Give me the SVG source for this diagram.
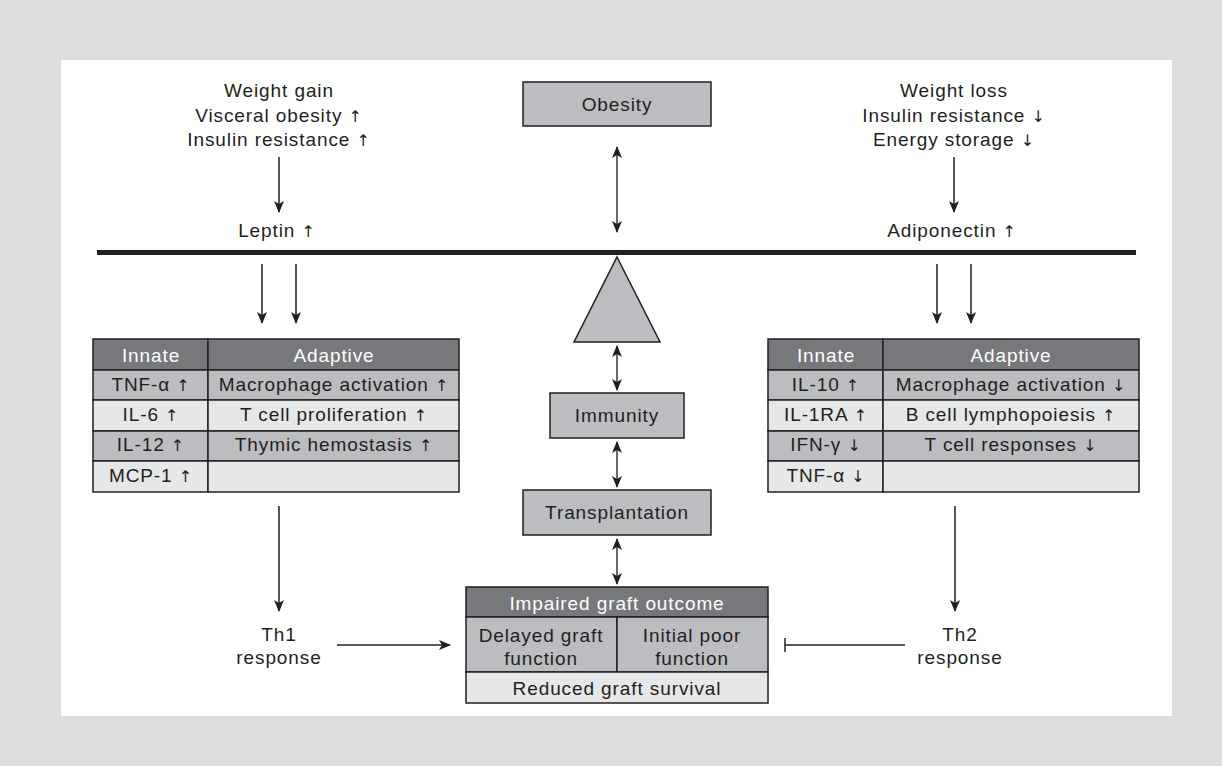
<svg xmlns="http://www.w3.org/2000/svg" width="1222" height="766" viewBox="0 0 1222 766">
<style>
text{font-family:"Liberation Sans",Arial,sans-serif;font-size:19px;letter-spacing:0.9px;fill:#231f20;text-anchor:middle}
.a{font-family:"DejaVu Sans",sans-serif;font-size:16px;font-variant-emoji:text}
.hd{fill:#fff}
.box{fill:#bcbdc0;stroke:#231f20;stroke-width:1.5}
.dk{fill:#77787b;stroke:#231f20;stroke-width:1.5}
.lt{fill:#e6e7e8;stroke:#231f20;stroke-width:1.5}
.md{fill:#bcbdc0;stroke:#231f20;stroke-width:1.5}
.ar{stroke:#231f20;stroke-width:1.5;fill:none}
.gr{stroke:#58595b;stroke-width:1.8;fill:none}
</style>
<defs>
<marker id="ah" viewBox="0 0 12 10" refX="11" refY="5" markerWidth="12" markerHeight="10" markerUnits="userSpaceOnUse" orient="auto-start-reverse">
<path d="M0,0 L12,5 L0,10 L3,5 Z" fill="#231f20"/>
</marker>
</defs>
<rect x="0" y="0" width="1222" height="766" fill="#dcdddf"/>
<rect x="61" y="60" width="1111" height="656" fill="#fff"/>

<g id="left-top">
<text x="279" y="97">Weight gain</text>
<text x="279" y="122">Visceral obesity <tspan class="a">↑︎</tspan></text>
<text x="279" y="146">Insulin resistance <tspan class="a">↑︎</tspan></text>
</g>
<g id="leptin"><text x="277" y="237">Leptin <tspan class="a">↑︎</tspan></text></g>
<g id="right-top">
<text x="954" y="97">Weight loss</text>
<text x="954" y="122">Insulin resistance <tspan class="a">↓︎</tspan></text>
<text x="954" y="146">Energy storage <tspan class="a">↓︎</tspan></text>
</g>
<g id="adiponectin"><text x="952" y="237">Adiponectin <tspan class="a">↑︎</tspan></text></g>

<g id="obesity">
<rect class="box" x="523" y="82" width="188" height="44"/>
<text x="617" y="111">Obesity</text>
</g>
<g id="balance">
<rect x="97" y="250" width="1039" height="5" fill="#231f20"/>
<polygon points="617,257 660,342 574,342" class="box"/>
</g>
<g id="immunity">
<rect class="box" x="550" y="393" width="134" height="45"/>
<text x="617" y="422">Immunity</text>
</g>
<g id="transplantation">
<rect class="box" x="523" y="490" width="188" height="45"/>
<text x="617" y="519">Transplantation</text>
</g>

<g id="left-table">
<rect class="dk" x="93" y="339" width="115" height="31"/>
<rect class="dk" x="208" y="339" width="251" height="31"/>
<rect class="md" x="93" y="370" width="115" height="30"/>
<rect class="md" x="208" y="370" width="251" height="30"/>
<rect class="lt" x="93" y="400" width="115" height="31"/>
<rect class="lt" x="208" y="400" width="251" height="31"/>
<rect class="md" x="93" y="431" width="115" height="30"/>
<rect class="md" x="208" y="431" width="251" height="30"/>
<rect class="lt" x="93" y="461" width="115" height="31"/>
<rect class="lt" x="208" y="461" width="251" height="31"/>
<text class="hd" x="151" y="362">Innate</text>
<text class="hd" x="334" y="362">Adaptive</text>
<text x="151" y="391">TNF-α <tspan class="a">↑︎</tspan></text>
<text x="334" y="391">Macrophage activation <tspan class="a">↑︎</tspan></text>
<text x="151" y="421">IL-6 <tspan class="a">↑︎</tspan></text>
<text x="334" y="421">T cell proliferation <tspan class="a">↑︎</tspan></text>
<text x="151" y="451">IL-12 <tspan class="a">↑︎</tspan></text>
<text x="334" y="451">Thymic hemostasis <tspan class="a">↑︎</tspan></text>
<text x="151" y="482">MCP-1 <tspan class="a">↑︎</tspan></text>
</g>

<g id="right-table">
<rect class="dk" x="768" y="339" width="115" height="31"/>
<rect class="dk" x="883" y="339" width="256" height="31"/>
<rect class="md" x="768" y="370" width="115" height="30"/>
<rect class="md" x="883" y="370" width="256" height="30"/>
<rect class="lt" x="768" y="400" width="115" height="31"/>
<rect class="lt" x="883" y="400" width="256" height="31"/>
<rect class="md" x="768" y="431" width="115" height="30"/>
<rect class="md" x="883" y="431" width="256" height="30"/>
<rect class="lt" x="768" y="461" width="115" height="31"/>
<rect class="lt" x="883" y="461" width="256" height="31"/>
<text class="hd" x="826" y="362">Innate</text>
<text class="hd" x="1011" y="362">Adaptive</text>
<text x="826" y="391">IL-10 <tspan class="a">↑︎</tspan></text>
<text x="1011" y="391">Macrophage activation <tspan class="a">↓︎</tspan></text>
<text x="826" y="421">IL-1RA <tspan class="a">↑︎</tspan></text>
<text x="1011" y="421">B cell lymphopoiesis <tspan class="a">↑︎</tspan></text>
<text x="826" y="451">IFN-γ <tspan class="a">↓︎</tspan></text>
<text x="1011" y="451">T cell responses <tspan class="a">↓︎</tspan></text>
<text x="826" y="482">TNF-α <tspan class="a">↓︎</tspan></text>
</g>

<g id="impaired">
<rect class="dk" x="466" y="587" width="302" height="30"/>
<rect class="md" x="466" y="617" width="151" height="55"/>
<rect class="md" x="617" y="617" width="151" height="55"/>
<rect class="lt" x="466" y="672" width="302" height="31"/>
<text class="hd" x="617" y="610">Impaired graft outcome</text>
<text x="541" y="642">Delayed graft</text>
<text x="541" y="665">function</text>
<text x="692" y="642">Initial poor</text>
<text x="692" y="665">function</text>
<text x="617" y="695">Reduced graft survival</text>
</g>

<g id="th1"><text x="279" y="641">Th1</text><text x="279" y="664">response</text></g>
<g id="th2"><text x="960" y="641">Th2</text><text x="960" y="664">response</text></g>

<g id="connectors">
<line class="ar" x1="279" y1="157" x2="279" y2="212" marker-end="url(#ah)"/>
<line class="ar" x1="954" y1="157" x2="954" y2="212" marker-end="url(#ah)"/>
<line class="gr" x1="617" y1="147" x2="617" y2="232" marker-start="url(#ah)" marker-end="url(#ah)"/>
<line class="ar" x1="262" y1="264" x2="262" y2="323" marker-end="url(#ah)"/>
<line class="ar" x1="296" y1="264" x2="296" y2="323" marker-end="url(#ah)"/>
<line class="ar" x1="937" y1="264" x2="937" y2="323" marker-end="url(#ah)"/>
<line class="ar" x1="971" y1="264" x2="971" y2="323" marker-end="url(#ah)"/>
<line class="gr" x1="617" y1="346" x2="617" y2="390" marker-start="url(#ah)" marker-end="url(#ah)"/>
<line class="gr" x1="617" y1="442" x2="617" y2="487" marker-start="url(#ah)" marker-end="url(#ah)"/>
<line class="gr" x1="617" y1="539" x2="617" y2="584" marker-start="url(#ah)" marker-end="url(#ah)"/>
<line class="ar" x1="279" y1="506" x2="279" y2="611" marker-end="url(#ah)"/>
<line class="ar" x1="955" y1="506" x2="955" y2="611" marker-end="url(#ah)"/>
<line class="ar" x1="337" y1="645" x2="450" y2="645" marker-end="url(#ah)"/>
<line class="ar" x1="905" y1="645" x2="785" y2="645"/>
<line class="ar" x1="785" y1="638" x2="785" y2="652"/>
</g>
</svg>
